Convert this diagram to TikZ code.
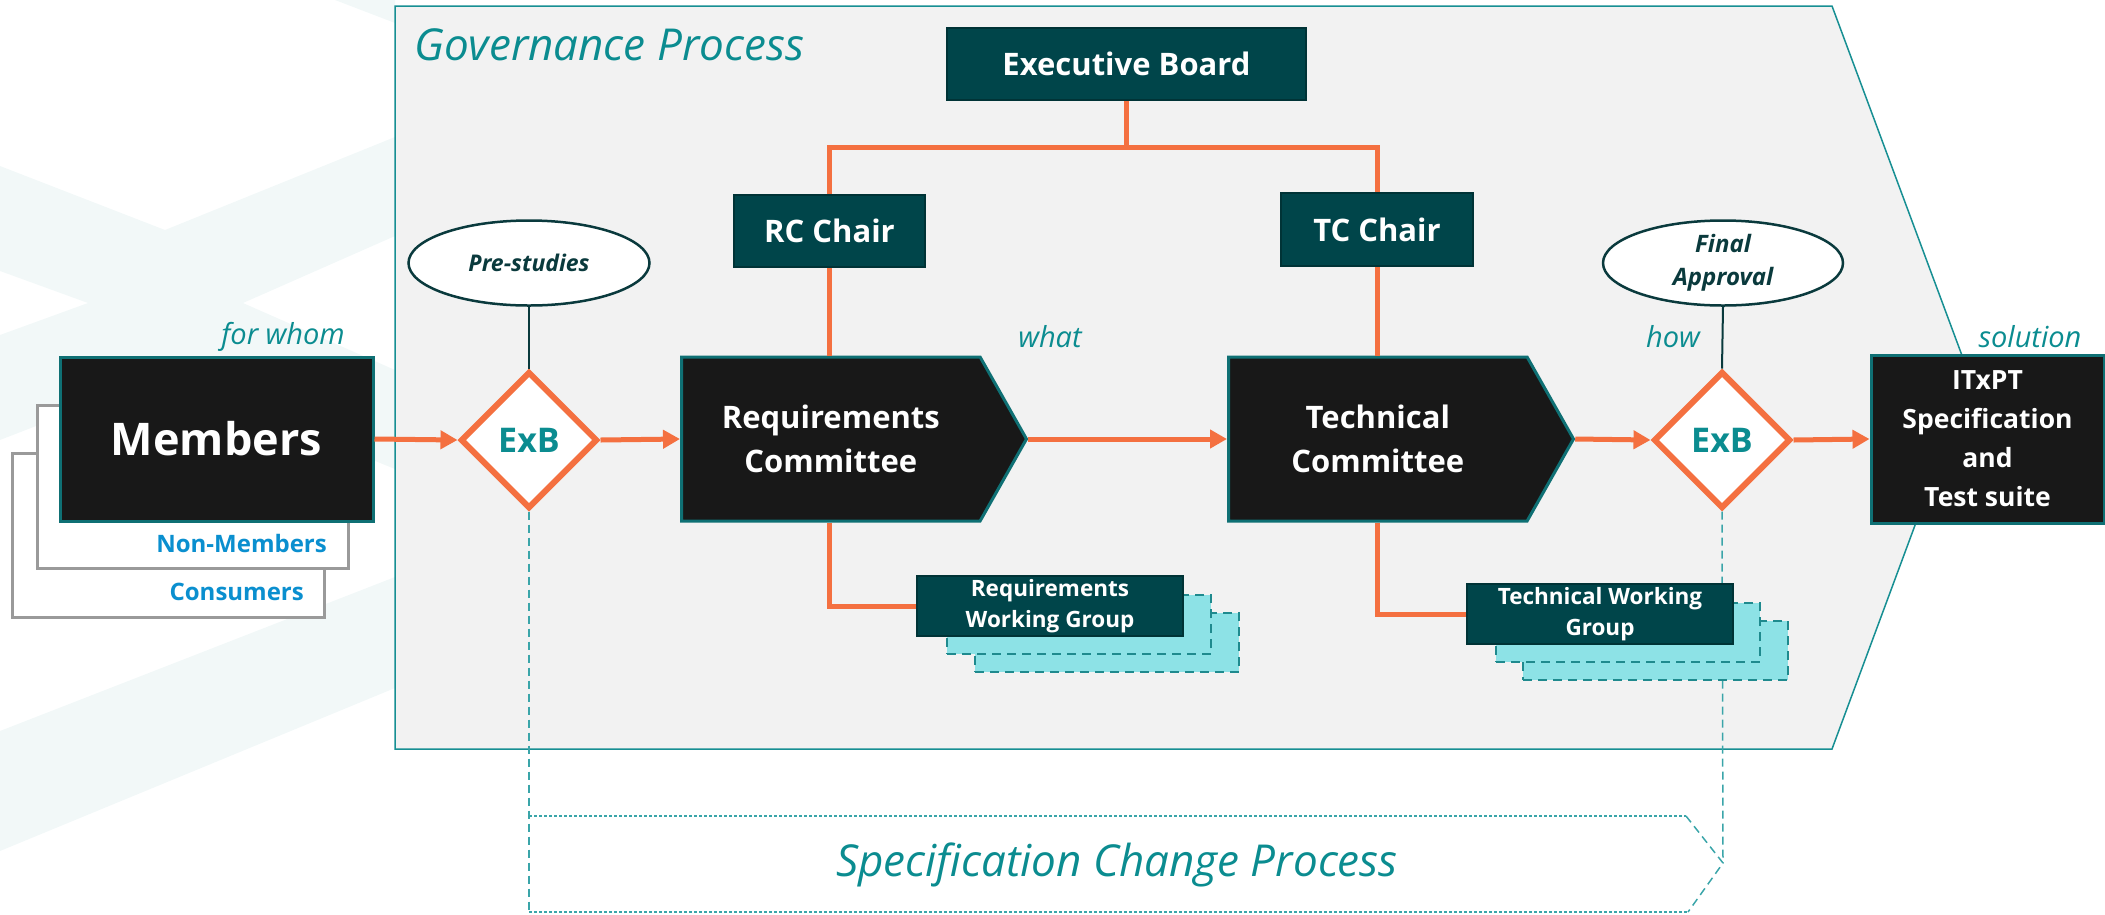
\documentclass[tikz,border=0pt]{standalone}
\usepackage{fontspec}
\setmainfont{Open Sans}
\usetikzlibrary{shapes.geometric,shapes.symbols,arrows.meta}
\definecolor{tealtxt}{HTML}{0B8C90}
\definecolor{dteal}{HTML}{00454A}
\definecolor{dtealedge}{HTML}{003336}
\definecolor{boxblack}{HTML}{181818}
\definecolor{boxedge}{HTML}{0F7074}
\definecolor{orangeln}{HTML}{F47040}
\definecolor{bluetxt}{HTML}{0A8FCF}
\definecolor{govfill}{HTML}{F2F2F2}
\definecolor{govedge}{HTML}{178F93}
\definecolor{cyanfill}{HTML}{8DE2E6}
\definecolor{cyanedge}{HTML}{1F8A8E}
\definecolor{wmark}{HTML}{F2F8F8}
\definecolor{ellink}{HTML}{0A3A3D}
\definecolor{dashteal}{HTML}{3AA5A9}
\definecolor{grayedge}{HTML}{9A9A9A}
\tikzset{
  blackbox/.style={draw=boxedge, line width=3pt, fill=boxblack, text=white, inner sep=0pt, align=center},
  darkbox/.style={draw=dtealedge, line width=2pt, fill=dteal, text=white, inner sep=0pt, align=center},
  graybox/.style={draw=grayedge, line width=3pt, fill=white, inner sep=0pt},
  stackbox/.style={draw=cyanedge, line width=2.5pt, dash pattern=on 9pt off 6pt, fill=cyanfill, inner sep=0pt},
  decision/.style={diamond, aspect=1, draw=orangeln, line width=6pt, fill=white, inner sep=0pt, text=tealtxt, font=\bfseries\fontsize{34}{40}\selectfont},
  bubble/.style={ellipse, draw=ellink, line width=2.5pt, fill=white, inner sep=0pt, text=ellink, align=center},
  committee/.style={signal, signal to=east, signal pointer angle=121, blackbox},
  orangeline/.style={draw=orangeln, line width=5pt},
  arrowline/.style={draw=orangeln, line width=5pt, -{Triangle[length=17pt,width=18pt]}},
  stemline/.style={draw=ellink, line width=2pt},
  dashvert/.style={draw=dashteal, line width=1.5pt, dash pattern=on 8pt off 5pt},
  tag/.style={text=tealtxt, font=\itshape\fontsize{29}{34}\selectfont, inner sep=0pt}
}
\begin{document}
\begin{tikzpicture}[x=1pt,y=-1pt]
\useasboundingbox (0,0) rectangle (2105,914);
% watermark
\fill[wmark] (0,166) -- (165,230) -- (395,137) -- (395,236) -- (243,303) -- (395,370) -- (395,469) -- (165,376) -- (0,440) -- (0,335) -- (88,303) -- (0,271) -- cycle;
\fill[wmark] (0,731) -- (395,577) -- (395,688) -- (0,851) -- cycle;
\fill[wmark] (335,0) -- (395,0) -- (395,23) -- cycle;
% governance area
\draw[fill=govfill, draw=govedge, line width=1.5pt] (395,6) -- (1832,6) -- (1970,377) -- (1832,749) -- (395,749) -- cycle;
\node[anchor=west, text=tealtxt, font=\itshape\fontsize{44}{52}\selectfont, inner sep=0pt] (govt) at (414,45) {Governance Process};

% stakeholder boxes
\node[graybox, minimum width=312pt, minimum height=164pt] (cons) at (168,535) {};
\node[anchor=east, text=bluetxt, font=\bfseries\fontsize{24}{28}\selectfont, inner sep=0pt] (constxt) at (304,592) {Consumers};
\node[graybox, minimum width=311pt, minimum height=163pt] (nonmem) at (192.5,486.5) {};
\node[anchor=east, text=bluetxt, font=\bfseries\fontsize{24}{28}\selectfont, inner sep=0pt] (nonmemtxt) at (327,543) {Non-Members};
\node[blackbox, minimum width=313pt, minimum height=164pt, font=\bfseries\fontsize{45}{52}\selectfont] (mem) at (216.5,439) {Members};
\node[tag, anchor=east] (forwhom) at (345,337) {for whom};

% decisions and bubbles
\node[decision, minimum width=137pt, minimum height=137pt] (exb1) at (529,440) {ExB};
\node[bubble, minimum width=241pt, minimum height=85pt, font=\bfseries\itshape\fontsize{23}{28}\selectfont] (pre) at (529,263) {Pre-studies};
\node[decision, minimum width=137pt, minimum height=137pt] (exb2) at (1722,440) {ExB};
\node[bubble, minimum width=240pt, minimum height=85pt, font=\bfseries\itshape\fontsize{24}{33}\selectfont] (fin) at (1723,263) {Final\\Approval};

% dashed verticals and spec change process
\coordinate (scbl) at (529,912);
\coordinate (sctip) at (1723,863);
\draw[dashvert] (exb1.south) -- (scbl);
\draw[dashvert] (exb2.south) -- (sctip);
\draw[draw=dashteal, line width=1.5pt, dash pattern=on 3pt off 2pt] (529,816) -- (1686,816);
\draw[draw=dashteal, line width=1.5pt, dash pattern=on 3pt off 2pt] (529,912) -- (1688,912);
\draw[dashvert] (1686,816) -- (sctip) -- (1688,912);
\node[text=tealtxt, font=\itshape\fontsize{44}{52}\selectfont, inner sep=0pt] (spect) at (1117,865) {Specification Change Process};

% committees, chairs, board
\node[committee, anchor=west, minimum width=345pt, minimum height=164pt, font=\bfseries\fontsize{31}{44}\selectfont] (rc) at (680,439) {Requirements\\Committee};
\node[committee, anchor=west, minimum width=345pt, minimum height=164pt, font=\bfseries\fontsize{31}{44}\selectfont] (tc) at (1227,439) {Technical\\Committee};
\node[darkbox, minimum width=359pt, minimum height=72pt, font=\bfseries\fontsize{31}{36}\selectfont] (eb) at (1126.5,64) {Executive Board};
\node[darkbox, minimum width=191pt, minimum height=72pt, font=\bfseries\fontsize{31}{36}\selectfont] (rcc) at (829.5,231) {RC Chair};
\node[darkbox, minimum width=192pt, minimum height=73pt, font=\bfseries\fontsize{31}{36}\selectfont] (tcc) at (1377,229.5) {TC Chair};
\node[blackbox, minimum width=233pt, minimum height=168pt, font=\bfseries\fontsize{26.5}{39}\selectfont] (itx) at (1987.5,439) {ITxPT\\Specification\\and\\Test suite};

% working groups
\node[stackbox, minimum width=264pt, minimum height=59pt] (rwgb2) at (1107,642.5) {};
\node[stackbox, minimum width=264pt, minimum height=59pt] (rwgb1) at (1079,624.5) {};
\node[darkbox, minimum width=266pt, minimum height=60pt, font=\bfseries\fontsize{22.5}{31}\selectfont] (rwg) at (1050,606) {Requirements\\Working Group};
\node[stackbox, minimum width=265pt, minimum height=59pt] (twgb2) at (1655.5,650.5) {};
\node[stackbox, minimum width=264pt, minimum height=59pt] (twgb1) at (1628,632.5) {};
\node[darkbox, minimum width=266pt, minimum height=60pt, font=\bfseries\fontsize{22.5}{31}\selectfont] (twg) at (1600,614) {Technical Working\\Group};

% tags
\node[tag] (what) at (1050,337) {what};
\node[tag] (how) at (1673,337) {how};
\node[tag] (solution) at (2030,337) {solution};

% connectors
\coordinate (split) at (1126.5,147);
\draw[orangeline] (eb.south) -- (split);
\draw[orangeline] (split) -| (rcc.north);
\draw[orangeline] (split) -| (tcc.north);
\draw[orangeline] (rcc.south) -- (rcc.south |- rc.north);
\draw[orangeline] (tcc.south) -- (tcc.south |- tc.north);
\draw[orangeline] (rcc.south |- rc.south) |- (rwg.west);
\draw[orangeline] (tcc.south |- tc.south) |- (twg.west);
\draw[stemline] (pre.south) -- (exb1.north);
\draw[stemline] (fin.south) -- (exb2.north);
\draw[arrowline] (mem.east) -- (exb1.west);
\draw[arrowline] (exb1.east) -- (rc.west);
\draw[arrowline] (rc.east) -- (tc.west);
\draw[arrowline] (tc.east) -- (exb2.west);
\draw[arrowline] (exb2.east) -- (itx.west);
\end{tikzpicture}
\end{document}
